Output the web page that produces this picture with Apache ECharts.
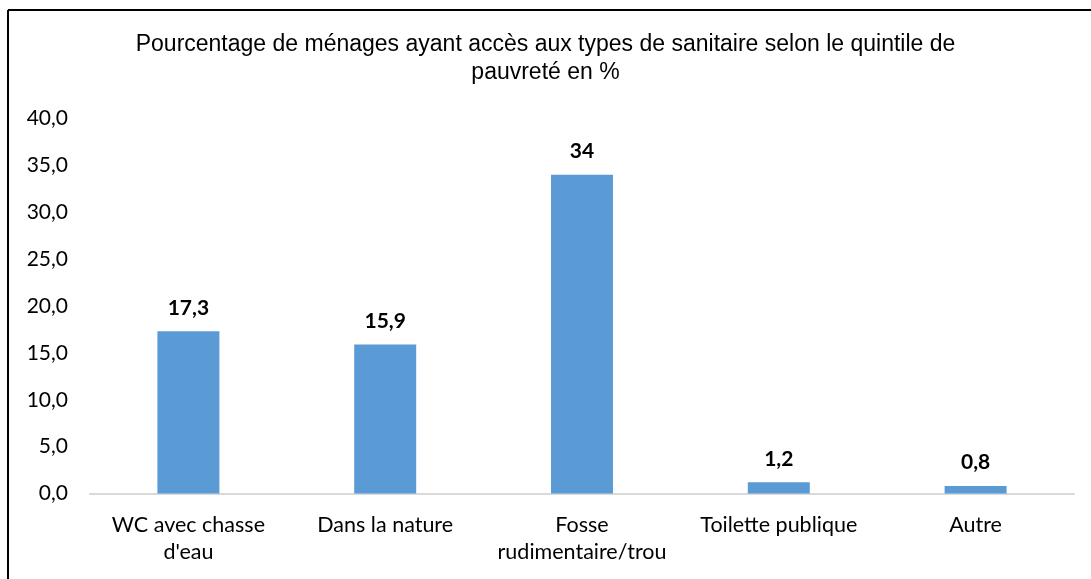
<!DOCTYPE html>
<html>
<head>
<meta charset="utf-8">
<script src="https://cdn.jsdelivr.net/npm/echarts@6/dist/echarts.min.js"></script>
<style>
  html, body { margin: 0; padding: 0; background: #fff; }
  #chart { width: 1091px; height: 579px; }
</style>
</head>
<body>
<div id="chart"></div>
<script>
const categories = ["WC avec chasse\nd'eau", "Dans la nature", "Fosse\nrudimentaire/trou", "Toilette publique", "Autre"];
const values = [17.3, 15.9, 34, 1.2, 0.8];
const yTicks = { min: 0, max: 40, interval: 5 };

const chart = echarts.init(document.getElementById("chart"), null, { renderer: "canvas" });

const labelFont = "Lato";

chart.setOption({
  animation: false,
  backgroundColor: "#fff",
  title: {
    text: "Pourcentage de ménages ayant accès aux types de sanitaire selon le quintile de\npauvreté en %",
    left: "center",
    top: 26,
    textStyle: {
      fontFamily: "Liberation Sans",
      fontSize: 23,
      fontWeight: "normal",
      color: "#000",
      lineHeight: 28,
    },
  },
  grid: {
    left: 90,
    right: 17,
    top: 118.5,
    bottom: 85.5,
    containLabel: false,
  },
  xAxis: {
    type: "category",
    data: categories,
    axisTick: { show: false },
    axisLine: { lineStyle: { color: "#d9d9d9", width: 2 } },
    axisLabel: {
      interval: 0,
      margin: 18,
      fontFamily: labelFont,
      fontSize: 21.5,
      lineHeight: 27,
      color: "#000",
    },
  },
  yAxis: {
    type: "value",
    min: yTicks.min,
    max: yTicks.max,
    interval: yTicks.interval,
    splitLine: { show: false },
    axisLine: { show: false },
    axisTick: { show: false },
    axisLabel: {
      margin: 22,
      fontFamily: labelFont,
      fontSize: 21,
      color: "#000",
      formatter: (v) => v.toFixed(1).replace(".", ","),
    },
  },
  series: [
    {
      type: "bar",
      data: values,
      barWidth: "31.5%",
      itemStyle: { color: "#5b9bd5" },
      label: {
        show: true,
        position: "top",
        distance: 13,
        fontFamily: labelFont,
        fontWeight: "bold",
        fontSize: 21,
        color: "#000",
        formatter: (p) => String(p.value).replace(".", ","),
      },
    },
  ],
  graphic: [
    {
      type: "line",
      shape: { x1: 8, y1: 10, x2: 1091, y2: 10 },
      style: { stroke: "#000", lineWidth: 2 },
    },
    {
      type: "line",
      shape: { x1: 8, y1: 10, x2: 8, y2: 579 },
      style: { stroke: "#000", lineWidth: 2 },
    },
  ],
});
</script>
</body>
</html>
